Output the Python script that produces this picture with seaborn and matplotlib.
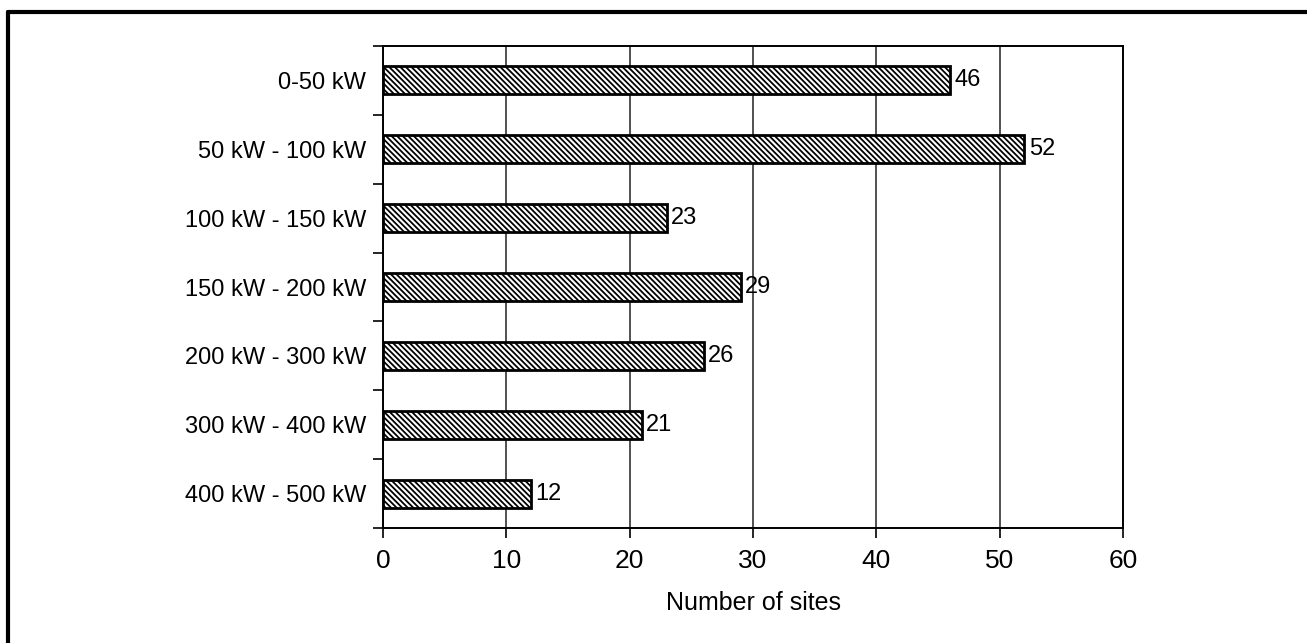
import numpy as np
import pandas as pd
import matplotlib
matplotlib.use("Agg")
import matplotlib.pyplot as plt
import seaborn as sns

# data
categories = ["0-50 kW", "50 kW - 100 kW", "100 kW - 150 kW", "150 kW - 200 kW",
              "200 kW - 300 kW", "300 kW - 400 kW", "400 kW - 500 kW"]
sites = [46, 52, 23, 29, 26, 21, 12]
x_ticks = [0, 10, 20, 30, 40, 50, 60]

df = pd.DataFrame({"size": categories, "sites": sites})

sns.set_style("white")
plt.rcParams["font.family"] = ["Liberation Sans", "DejaVu Sans"]
plt.rcParams["hatch.linewidth"] = 1.3
plt.rcParams["text.color"] = "black"
plt.rcParams["xtick.color"] = "black"
plt.rcParams["ytick.color"] = "black"
plt.rcParams["axes.labelcolor"] = "black"

fig = plt.figure(figsize=(13.07, 6.43), dpi=100)
ax = fig.add_axes([383 / 1307, 1 - 528 / 643, 740 / 1307, 482 / 643])

sns.barplot(data=df, x="sites", y="size", orient="h", color="white",
            edgecolor="black", linewidth=2, width=0.406, ax=ax, zorder=3)
for p in ax.patches:
    p.set_hatch("\\\\\\\\\\\\")

# value labels
for i, v in enumerate(sites):
    ax.text(v + 0.35, i, str(v), va="center", ha="left", fontsize=17)

ax.set_xlim(0, 60)
ax.set_ylim(6.5, -0.5)
ax.set_xticks(x_ticks)
ax.set_xticklabels([str(t) for t in x_ticks], fontsize=19)
ax.tick_params(axis="y", which="major", length=0, labelsize=17, pad=12)
ax.set_yticks(np.arange(-0.5, 7, 1), minor=True)
ax.tick_params(axis="y", which="minor", length=7, width=1.2, color="black",
               direction="out", left=True)
ax.tick_params(axis="x", length=7, width=1.2, color="black", direction="out",
               bottom=True, pad=8)

ax.grid(axis="x", color="#333333", linewidth=1.2, zorder=0)
ax.set_axisbelow(True)
for s in ax.spines.values():
    s.set_visible(True)
    s.set_color("black")
    s.set_linewidth(1.4)

ax.set_xlabel("Number of sites", fontsize=18, labelpad=13)
ax.set_ylabel("")

# frame lines at top and left of the figure
fig.add_artist(plt.Line2D([8 / 1307, 1.0], [1 - 12 / 643, 1 - 12 / 643],
                          color="black", linewidth=3, transform=fig.transFigure))
fig.add_artist(plt.Line2D([8 / 1307, 8 / 1307], [1 - 12 / 643, 0],
                          color="black", linewidth=3, transform=fig.transFigure))

fig.savefig("out.png", dpi=100)
